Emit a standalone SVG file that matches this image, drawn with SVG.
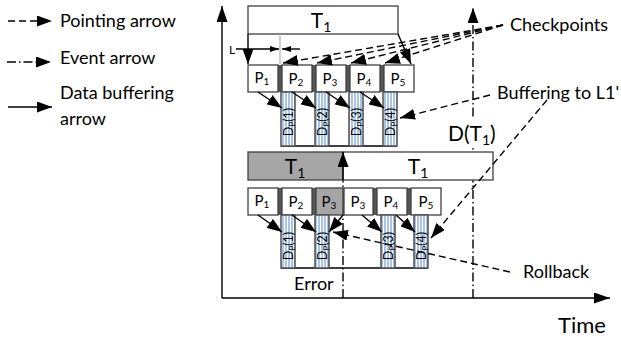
<svg xmlns="http://www.w3.org/2000/svg" width="621" height="337" viewBox="0 0 621 337">
<style>
text{font-family:Lato,"Liberation Sans",sans-serif;fill:#000}
.lg{font-size:18px}
.big{font-size:21px}
.pl{font-size:15px;text-anchor:middle}
.dl{font-size:12.5px;text-anchor:middle}
.box{fill:#fff;stroke:#404040;stroke-width:1.3}
.bar{fill:url(#stripe);stroke:#505050;stroke-width:1.5}
.ln{stroke:#000;stroke-width:1.4;fill:none}
.dash{stroke-dasharray:7,4}
.dd{stroke-dasharray:9,3,1.5,3}
</style>
<defs>
<marker id="ah" viewBox="0 0 15 11" refX="15" refY="5.5" markerWidth="15" markerHeight="11" orient="auto" markerUnits="userSpaceOnUse"><path d="M0,0 L15,5.5 L0,11 z" fill="#000"/></marker>
<marker id="ax" viewBox="0 0 16 11" refX="16" refY="5.5" markerWidth="16" markerHeight="11" orient="auto" markerUnits="userSpaceOnUse"><path d="M0,0 L16,5.5 L0,11 z" fill="#000"/></marker>
<marker id="sm" viewBox="0 0 9 6" refX="9" refY="3" markerWidth="9" markerHeight="6" orient="auto" markerUnits="userSpaceOnUse"><path d="M0,0 L9,3 L0,6 z" fill="#000"/></marker>
<pattern id="stripe" width="3" height="10" patternUnits="userSpaceOnUse"><rect width="3" height="10" fill="#a9c4e8"/><rect x="2" width="1" height="10" fill="#ffffff"/></pattern>
</defs>

<g id="legend">
<line class="ln dash" x1="8" y1="21" x2="52" y2="21" marker-end="url(#ah)"/>
<text class="lg" x="60" y="27">Pointing arrow</text>
<line class="ln dd" x1="7" y1="62" x2="51" y2="62" marker-end="url(#ah)"/>
<text class="lg" x="60" y="64">Event arrow</text>
<line class="ln" x1="8" y1="107" x2="52" y2="107" marker-end="url(#ah)"/>
<text class="lg" x="60" y="99">Data buffering</text>
<text class="lg" x="60" y="125">arrow</text>
</g>

<g id="connectors">
<line class="ln" x1="222" y1="298" x2="222" y2="6" marker-end="url(#ax)"/>
<line class="ln" x1="222" y1="298" x2="610" y2="298" marker-end="url(#ax)"/>
<line class="ln dd" x1="343" y1="298" x2="343" y2="152" marker-end="url(#ah)"/>
<line class="ln dd" x1="473" y1="298" x2="473" y2="8" marker-end="url(#ah)"/>
</g>

<g id="T1-top">
<rect class="box" x="248" y="6" width="150" height="28"/>
<text class="big" x="321" y="28" text-anchor="middle">T<tspan font-size="14" dy="4">1</tspan></text>
</g>

<g id="dims">
<line class="ln" x1="248" y1="34" x2="248" y2="64" marker-end="url(#ah)"/>
<line x1="280" y1="34" x2="280" y2="64" stroke="#b0b0b0" stroke-width="1.2"/>
<line class="ln" x1="398" y1="34" x2="411" y2="64" marker-end="url(#ah)"/>
<rect x="227" y="42" width="10" height="14" fill="#fff"/>
<text x="229" y="54" font-size="12">L</text>
<line class="ln" x1="236" y1="49" x2="279" y2="49" stroke-width="1" marker-end="url(#sm)"/>
<line class="ln" x1="300" y1="49" x2="282" y2="49" stroke-width="1" marker-end="url(#sm)"/>
</g>

<g id="row1">
<rect x="248" y="65" width="166" height="27" fill="#555"/>
<rect class="box" x="248" y="65" width="30" height="27"/>
<rect class="box" x="282" y="65" width="30" height="27"/>
<rect class="box" x="316" y="65" width="30" height="27"/>
<rect class="box" x="350" y="65" width="30" height="27"/>
<rect class="box" x="384" y="65" width="30" height="27"/>
<text class="pl" x="262" y="83">P<tspan font-size="10" dy="2">1</tspan></text>
<text class="pl" x="296" y="84">P<tspan font-size="10" dy="2">2</tspan></text>
<text class="pl" x="330" y="84">P<tspan font-size="10" dy="2">3</tspan></text>
<text class="pl" x="364" y="84">P<tspan font-size="10" dy="2">4</tspan></text>
<text class="pl" x="398" y="84">P<tspan font-size="10" dy="2">5</tspan></text>
</g>

<g id="bars1">
<line class="ln" x1="281" y1="146" x2="397" y2="146" stroke="#404040"/>
<rect class="bar" x="281" y="92" width="14" height="54"/>
<rect class="bar" x="315" y="92" width="14" height="54"/>
<rect class="bar" x="349" y="92" width="14" height="54"/>
<rect class="bar" x="383" y="92" width="14" height="54"/>
<text class="dl" transform="translate(292.5,122) rotate(-90)">D<tspan font-size="8" dy="2">P</tspan><tspan dy="-2">(1)</tspan></text>
<text class="dl" transform="translate(326.5,122) rotate(-90)">D<tspan font-size="8" dy="2">P</tspan><tspan dy="-2">(2)</tspan></text>
<text class="dl" transform="translate(360.5,122) rotate(-90)">D<tspan font-size="8" dy="2">P</tspan><tspan dy="-2">(3)</tspan></text>
<text class="dl" transform="translate(394.5,122) rotate(-90)">D<tspan font-size="8" dy="2">P</tspan><tspan dy="-2">(4)</tspan></text>
</g>

<g id="T1-row2">
<rect class="box" x="248" y="152" width="95" height="28" style="fill:#a6a6a6"/>
<rect class="box" x="343" y="152" width="150" height="28"/>
<text class="big" x="295" y="174" text-anchor="middle">T<tspan font-size="14" dy="4">1</tspan></text>
<text class="big" x="418" y="174" text-anchor="middle">T<tspan font-size="14" dy="4">1</tspan></text>
</g>

<g id="DT1">
<rect x="448" y="117" width="50" height="31" fill="#fff"/>
<text class="big" x="448" y="141">D(T<tspan font-size="14" dy="4">1</tspan><tspan dy="-4">)</tspan></text>
</g>

<g id="row2">
<rect x="248" y="188" width="193" height="27" fill="#555"/>
<rect class="box" x="248" y="188" width="30" height="27"/>
<rect class="box" x="282" y="188" width="30" height="27"/>
<rect class="box" x="316" y="188" width="27" height="27" style="fill:#a6a6a6"/>
<rect class="box" x="344" y="188" width="29" height="27"/>
<rect class="box" x="377" y="188" width="30" height="27"/>
<rect class="box" x="411" y="188" width="30" height="27"/>
<text class="pl" x="262" y="206">P<tspan font-size="10" dy="2">1</tspan></text>
<text class="pl" x="296" y="207">P<tspan font-size="10" dy="2">2</tspan></text>
<text class="pl" x="329" y="207">P<tspan font-size="10" dy="2">3</tspan></text>
<text class="pl" x="358" y="207">P<tspan font-size="10" dy="2">3</tspan></text>
<text class="pl" x="391" y="207">P<tspan font-size="10" dy="2">4</tspan></text>
<text class="pl" x="426" y="207">P<tspan font-size="10" dy="2">5</tspan></text>
</g>

<g id="bars2">
<line class="ln" x1="281" y1="268" x2="428" y2="268" stroke="#404040"/>
<rect class="bar" x="281" y="215" width="14" height="53"/>
<rect class="bar" x="315" y="215" width="14" height="53"/>
<rect class="bar" x="381" y="215" width="14" height="53"/>
<rect class="bar" x="414" y="215" width="14" height="53"/>
<text class="dl" transform="translate(292.5,246) rotate(-90)">D<tspan font-size="8" dy="2">P</tspan><tspan dy="-2">(1)</tspan></text>
<text class="dl" transform="translate(326.5,246) rotate(-90)">D<tspan font-size="8" dy="2">P</tspan><tspan dy="-2">(2)</tspan></text>
<text class="dl" transform="translate(392.5,246) rotate(-90)">D<tspan font-size="8" dy="2">P</tspan><tspan dy="-2">(3)</tspan></text>
<text class="dl" transform="translate(425.5,246) rotate(-90)">D<tspan font-size="8" dy="2">P</tspan><tspan dy="-2">(4)</tspan></text>
</g>

<g id="arrows">
<line class="ln" x1="343" y1="180" x2="343" y2="152" marker-end="url(#ah)"/>
<line class="ln" x1="258" y1="92" x2="282" y2="108" marker-end="url(#ah)"/>
<line class="ln" x1="292" y1="92" x2="316" y2="108" marker-end="url(#ah)"/>
<line class="ln" x1="326" y1="92" x2="350" y2="108" marker-end="url(#ah)"/>
<line class="ln" x1="360" y1="92" x2="384" y2="108" marker-end="url(#ah)"/>
<line class="ln" x1="258" y1="215" x2="282" y2="232" marker-end="url(#ah)"/>
<line class="ln" x1="292" y1="215" x2="316" y2="232" marker-end="url(#ah)"/>
<line class="ln" x1="362" y1="215" x2="382" y2="232" marker-end="url(#ah)"/>
<line class="ln" x1="396" y1="215" x2="415" y2="232" marker-end="url(#ah)"/>
<line class="ln" x1="343" y1="215" x2="329" y2="232" marker-end="url(#ah)"/>
<line class="ln dash" x1="503" y1="25" x2="283" y2="63" marker-end="url(#ah)"/>
<line class="ln dash" x1="503" y1="25" x2="317" y2="63" marker-end="url(#ah)"/>
<line class="ln dash" x1="503" y1="25" x2="351" y2="63" marker-end="url(#ah)"/>
<line class="ln dash" x1="503" y1="25" x2="385" y2="63" marker-end="url(#ah)"/>
<line class="ln dash" x1="490" y1="95" x2="400" y2="118" marker-end="url(#ah)"/>
<line class="ln dash" x1="547" y1="100" x2="431" y2="238" marker-end="url(#ah)"/>
<line class="ln dash" x1="510" y1="272" x2="333" y2="232" marker-end="url(#ah)"/>
</g>

<g id="labels">
<text class="lg" x="510" y="31">Checkpoints</text>
<text class="lg" x="497" y="99">Buffering to L1'</text>
<text class="lg" x="523" y="278">Rollback</text>
<text class="lg" x="294" y="290">Error</text>
<text x="558" y="333" font-size="22">Time</text>
</g>
</svg>
